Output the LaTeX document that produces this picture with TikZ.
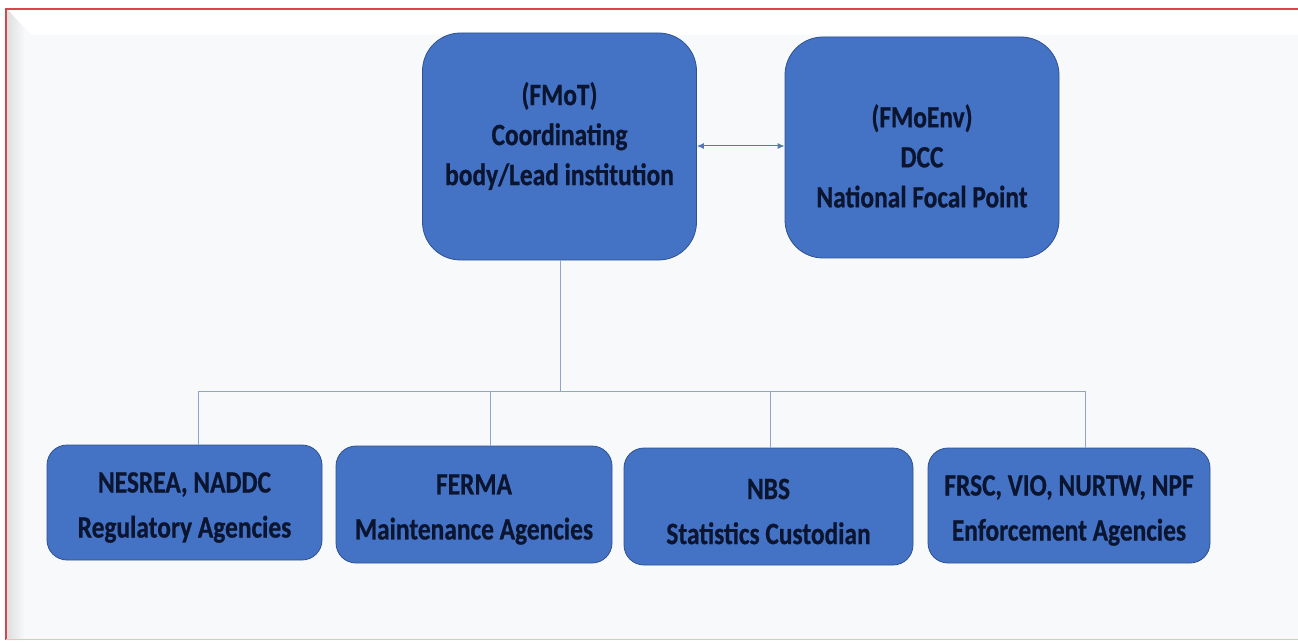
\documentclass[tikz,border=0pt]{standalone}
\usepackage{fontspec}
\setmainfont{Carlito}[FakeStretch=0.82, BoldFeatures={FakeBold=0.6}]
\usetikzlibrary{arrows.meta}
\definecolor{boxfill}{HTML}{4472C4}
\definecolor{boxline}{HTML}{2F528F}
\definecolor{txtcol}{HTML}{0B1530}
\definecolor{linkcol}{HTML}{8EA6CF}
\definecolor{arrcol}{HTML}{5677B4}
\definecolor{framered}{HTML}{D9444F}
\definecolor{bggray}{HTML}{F8F9FA}
\tikzset{
  topbox/.style={draw=boxline, line width=0.8pt, fill=boxfill, rounded corners=38pt, inner sep=0pt},
  lowbox/.style={draw=boxline, line width=0.8pt, fill=boxfill, rounded corners=20pt, inner sep=0pt},
  lowtxt/.style={text=txtcol, align=center, inner sep=0pt, font=\bfseries\fontsize{31}{45}\selectfont},
  toptxt/.style={text=txtcol, align=center, inner sep=0pt, font=\bfseries\fontsize{31}{40}\selectfont},
  link/.style={draw=linkcol, line width=1pt},
}
\begin{document}
\begin{tikzpicture}[x=1pt,y=1pt]
\useasboundingbox (0,0) rectangle (1298,641);
% background and frame
\fill[white] (0,0) rectangle (1298,641);
\fill[bggray] (7,1) rectangle (1298,632);
\fill[white] (7,632) -- (1298,632) -- (1298,606) -- (32,606) -- cycle;
\shade[left color=gray!25, right color=bggray] (7,1) -- (7,632) -- (25,612) -- (25,1) -- cycle;
\draw[framered, line width=1.6pt] (6,1) -- (6,632) -- (1298,632);
\draw[framered!35, line width=1pt] (6,1.2) -- (1298,1.2);
% top boxes
\node[topbox, minimum width=274pt, minimum height=227pt] (fmot) at (559.5,494.5) {};
\node[toptxt] (fmottxt) at (559.5,505) {(FMoT)\\Coordinating\\body/Lead institution};
\node[topbox, minimum width=274pt, minimum height=221pt] (fmoenv) at (922,493.5) {};
\node[toptxt] (fmoenvtxt) at (922,485) {(FMoEnv)\\DCC\\National Focal Point};
% arrow
\draw[arrcol, line width=1pt, {Latex[length=7pt,width=6pt]}-{Latex[length=7pt,width=6pt]}]
  (fmot.east |- 0,495) -- (fmoenv.west |- 0,495);
% bottom boxes
\node[lowbox, minimum width=275pt, minimum height=115pt] (b1) at (184.5,138.5) {};
\node[lowtxt] (b1t) at ([yshift=-5pt]b1.center) {NESREA, NADDC\\Regulatory Agencies};
\node[lowbox, minimum width=276pt, minimum height=117pt] (b2) at (474,136.5) {};
\node[lowtxt] (b2t) at ([yshift=-5pt]b2.center) {FERMA\\Maintenance Agencies};
\node[lowbox, minimum width=289pt, minimum height=117pt] (b3) at (768.5,134.5) {};
\node[lowtxt] (b3t) at ([yshift=-5pt]b3.center) {NBS\\Statistics Custodian};
\node[lowbox, minimum width=282pt, minimum height=115pt] (b4) at (1069,135.5) {};
\node[lowtxt] (b4t) at ([yshift=-5pt]b4.center) {FRSC, VIO, NURTW, NPF\\Enforcement Agencies};
% connectors
\coordinate (stem) at (560,250);
\coordinate (bus1) at (198,250);
\coordinate (bus2) at (490,250);
\coordinate (bus3) at (770,250);
\coordinate (bus4) at (1085,250);
\draw[link] (stem |- fmot.south) -- (stem);
\draw[link] (bus1) -- (bus4);
\draw[link] (bus1) -- (bus1 |- b1.north);
\draw[link] (bus2) -- (bus2 |- b2.north);
\draw[link] (bus3) -- (bus3 |- b3.north);
\draw[link] (bus4) -- (bus4 |- b4.north);
\end{tikzpicture}
\end{document}
